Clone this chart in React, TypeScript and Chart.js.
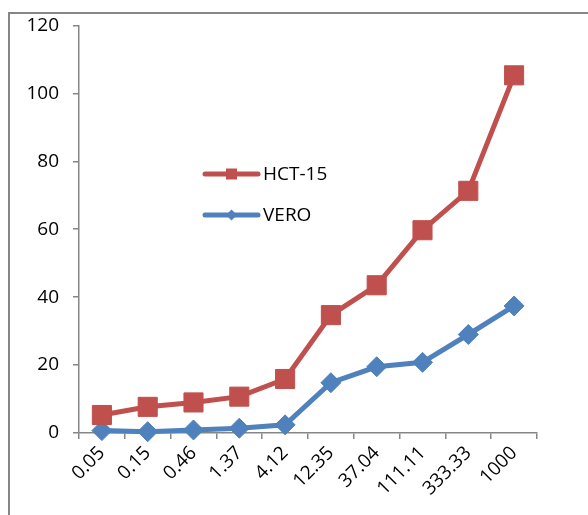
import React, { useEffect, useRef } from "react";
import { Chart, registerables } from "chart.js";

Chart.register(...registerables);

const categories = ["0.05", "0.15", "0.46", "1.37", "4.12", "12.35", "37.04", "111.11", "333.33", "1000"];
const hct15 = [5.3, 7.7, 9.0, 10.7, 15.9, 34.7, 43.5, 59.7, 71.3, 105.3];
const vero = [0.7, 0.4, 0.9, 1.4, 2.4, 14.8, 19.5, 20.8, 29.0, 37.4];
const seriesNames = ["HCT-15", "VERO"];
const yTicks = { min: 0, max: 120, step: 20 };

const RED = "#C0504D";
const BLUE = "#4F81BD";
const AXIS = "#868686";
const FONT = "'Open Sans', sans-serif";

const legendPlugin = {
  id: "insideLegend",
  afterDatasetsDraw(chart: any) {
    const ctx = chart.ctx;
    const items = [
      { name: seriesNames[0], color: RED, style: "rect", y: 174 },
      { name: seriesNames[1], color: BLUE, style: "rectRot", y: 215 },
    ];
    ctx.save();
    for (const it of items) {
      const x0 = 205, x1 = 258, cx = (x0 + x1) / 2;
      ctx.strokeStyle = it.color;
      ctx.lineWidth = 5;
      ctx.lineCap = "round";
      ctx.beginPath();
      ctx.moveTo(x0, it.y);
      ctx.lineTo(x1, it.y);
      ctx.stroke();
      ctx.fillStyle = it.color;
      ctx.beginPath();
      if (it.style === "rect") {
        ctx.rect(cx - 5.5, it.y - 5.5, 11, 11);
      } else {
        ctx.moveTo(cx, it.y - 5.5);
        ctx.lineTo(cx + 5.5, it.y);
        ctx.lineTo(cx, it.y + 5.5);
        ctx.lineTo(cx - 5.5, it.y);
        ctx.closePath();
      }
      ctx.fill();
      ctx.fillStyle = "#000";
      ctx.font = `19px ${FONT}`;
      ctx.textBaseline = "middle";
      ctx.textAlign = "left";
      ctx.fillText(it.name, 263, it.y + 1);
    }
    ctx.restore();
  },
};

export default function App() {
  const ref = useRef<HTMLCanvasElement | null>(null);
  useEffect(() => {
    document.body.style.margin = "0";
    const canvas = ref.current!;
    const chart = new Chart(canvas, {
      type: "line",
      data: {
        labels: categories,
        datasets: [
          {
            label: seriesNames[0],
            data: hct15,
            borderColor: RED,
            backgroundColor: RED,
            borderWidth: 5,
            pointStyle: "rect",
            pointRadius: 13.5,
            pointBorderWidth: 1,
            pointBorderColor: RED,
            pointBackgroundColor: RED,
            tension: 0,
            clip: false as any,
          },
          {
            label: seriesNames[1],
            data: vero,
            borderColor: BLUE,
            backgroundColor: BLUE,
            borderWidth: 5,
            pointStyle: "rectRot",
            pointRadius: 10,
            pointBorderWidth: 1,
            pointBorderColor: BLUE,
            pointBackgroundColor: BLUE,
            tension: 0,
            clip: false as any,
          },
        ],
      },
      options: {
        animation: false,
        responsive: false,
        devicePixelRatio: 1,
        layout: { padding: { left: 0, top: 25, right: 51, bottom: 0 } },
        plugins: { legend: { display: false }, tooltip: { enabled: false } },
        scales: {
          x: {
            offset: true,
            grid: {
              offset: true,
              drawOnChartArea: false,
              drawTicks: true,
              tickLength: 6,
              color: AXIS,
              lineWidth: 1.5,
            },
            border: { color: AXIS, width: 1.5 },
            ticks: {
              color: "#000",
              font: { family: FONT, size: 19 },
              minRotation: 45,
              maxRotation: 45,
              padding: 3,
              autoSkip: false,
            },
            afterFit(scale: any) {
              scale.height = 82;
            },
          },
          y: {
            min: yTicks.min,
            max: yTicks.max,
            grid: {
              drawOnChartArea: false,
              drawTicks: true,
              tickLength: 6,
              color: AXIS,
              lineWidth: 1.5,
            },
            border: { color: AXIS, width: 1.5 },
            ticks: {
              stepSize: yTicks.step,
              color: "#000",
              font: { family: FONT, size: 19 },
              padding: 14,
            },
            afterFit(scale: any) {
              scale.width = 79;
            },
          },
        },
      },
      plugins: [legendPlugin],
    });
    return () => chart.destroy();
  }, []);

  return (
    <div style={{ position: "fixed", left: 0, top: 0, width: 588, height: 515, overflow: "hidden", background: "#fff" }}>
      <div
        style={{
          position: "absolute",
          left: 8,
          top: 12,
          width: 600,
          height: 600,
          borderTop: `2px solid ${AXIS}`,
          borderLeft: `2px solid ${AXIS}`,
        }}
      />
      <canvas ref={ref} width={588} height={515} style={{ position: "absolute", left: 0, top: 0, width: 588, height: 515 }} />
    </div>
  );
}
